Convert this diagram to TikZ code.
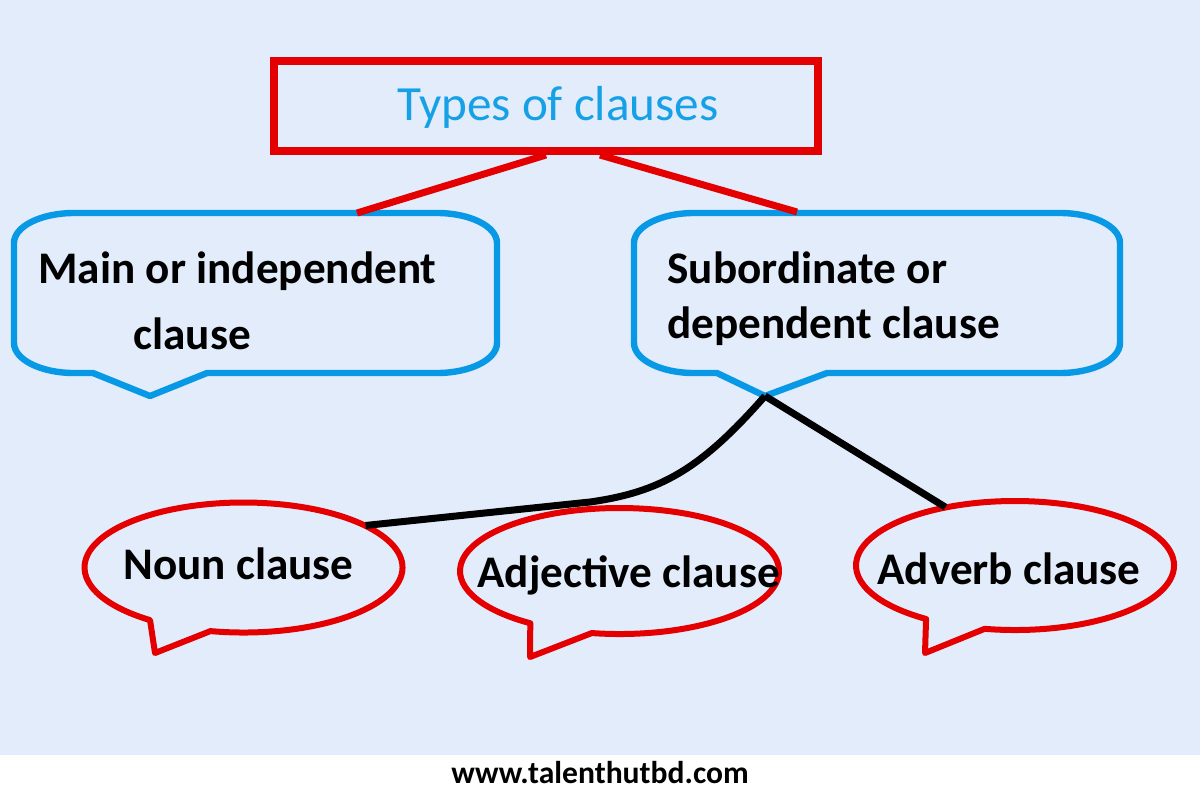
\documentclass[tikz,border=0pt]{standalone}
\usepackage{fontspec}
\setmainfont{Carlito}
\usetikzlibrary{shapes.geometric,calc}
\definecolor{bgblue}{RGB}{227,236,250}
\definecolor{myred}{RGB}{228,0,0}
\definecolor{myblue}{RGB}{8,153,230}
\definecolor{titleblue}{RGB}{22,160,230}
\begin{document}
\begin{tikzpicture}[x=0.5pt,y=-0.5pt,
  bluecall/.style={draw=myblue,line width=3.2pt,line join=round},
  redcall/.style={draw=myred,line width=3pt,line join=round},
  redlink/.style={draw=myred,line width=3.5pt},
  blacklink/.style={draw=black,line width=3.5pt,line join=round},
  lbl/.style={font=\fontsize{22.6}{26}\selectfont\bfseries,inner sep=0pt,anchor=base west,text=black},
  ghost/.style={ellipse,inner sep=0pt}]
\useasboundingbox (0,0) rectangle (1200,800);
\fill[white] (0,0) rectangle (1200,800);
\fill[bgblue] (0,0) rectangle (1200,755);

% title
\node[draw=myred,line width=4pt,minimum width=272pt,minimum height=45pt,inner sep=0pt] (title) at (546,106) {};
\node[text=titleblue,font=\fontsize{24.6}{28}\selectfont,inner sep=0pt,anchor=base] (ttext) at (558,120) {Types of clauses};

% blue callouts
\draw[bluecall] (74,213) -- (437,213) arc[start angle=-90,end angle=0,x radius=60,y radius=30]
  -- (497,343) arc[start angle=0,end angle=90,x radius=60,y radius=30]
  -- (207,373) -- (150,396) -- (93,373) -- (74,373)
  arc[start angle=90,end angle=180,x radius=60,y radius=30]
  -- (14,243) arc[start angle=180,end angle=270,x radius=60,y radius=30] -- cycle;
\draw[bluecall] (694,213) -- (1060,213) arc[start angle=-90,end angle=0,x radius=60,y radius=30]
  -- (1120,343) arc[start angle=0,end angle=90,x radius=60,y radius=30]
  -- (827,373) -- (765,396) -- (717,373) -- (694,373)
  arc[start angle=90,end angle=180,x radius=60,y radius=30]
  -- (634,243) arc[start angle=180,end angle=270,x radius=60,y radius=30] -- cycle;
\coordinate (maintop) at (357,213);
\coordinate (subtop) at (797,212);
\coordinate (subtip) at (765,396);

% ghost ellipses (for anchors)
\node[ghost,minimum width=159pt,minimum height=65pt] (noun) at (243.5,567.5) {};
\node[ghost,minimum width=159.5pt,minimum height=63pt] (adj) at (619.5,571) {};
\node[ghost,minimum width=159pt,minimum height=64.5pt] (adv) at (1015,565.5) {};

% red ellipse callouts
\draw[redcall] ($(noun.center)+(102:159 and 65)$) arc[start angle=102,end angle=-234,x radius=159,y radius=65]
  -- (155,653) -- cycle;
\draw[redcall] ($(adj.center)+(100:159.5 and 63)$) arc[start angle=100,end angle=-236,x radius=159.5,y radius=63]
  -- (530,657) -- cycle;
\draw[redcall] ($(adv.center)+(101:159 and 64.5)$) arc[start angle=101,end angle=-236,x radius=159,y radius=64.5]
  -- (925,653) -- cycle;

% connectors
\draw[redlink] (title.south) -- (maintop);
\draw[redlink] ([xshift=27pt]title.south) -- (subtop);
\draw[blacklink] (subtip) .. controls (700,470) and (660,492) .. (590,502) -- (noun.19);
\draw[blacklink] (subtip) -- (adv.140);

% labels
\node[lbl] (t1) at (38,283) {Main or independent};
\node[lbl] (t2) at (133,349) {clause};
\node[lbl] (t3) at (667,283) {Subordinate or};
\node[lbl] (t4) at (667,338) {dependent clause};
\node[lbl] (t5) at (123,579) {Noun clause};
\node[lbl] (t6) at (477,587) {Adjective clause};
\node[lbl] (t7) at (877,584) {Adverb clause};

\node[font=\fontsize{15.8}{18}\selectfont\bfseries,anchor=base,inner sep=0pt] (web) at (600,783) {www.talenthutbd.com};
\end{tikzpicture}
\end{document}
